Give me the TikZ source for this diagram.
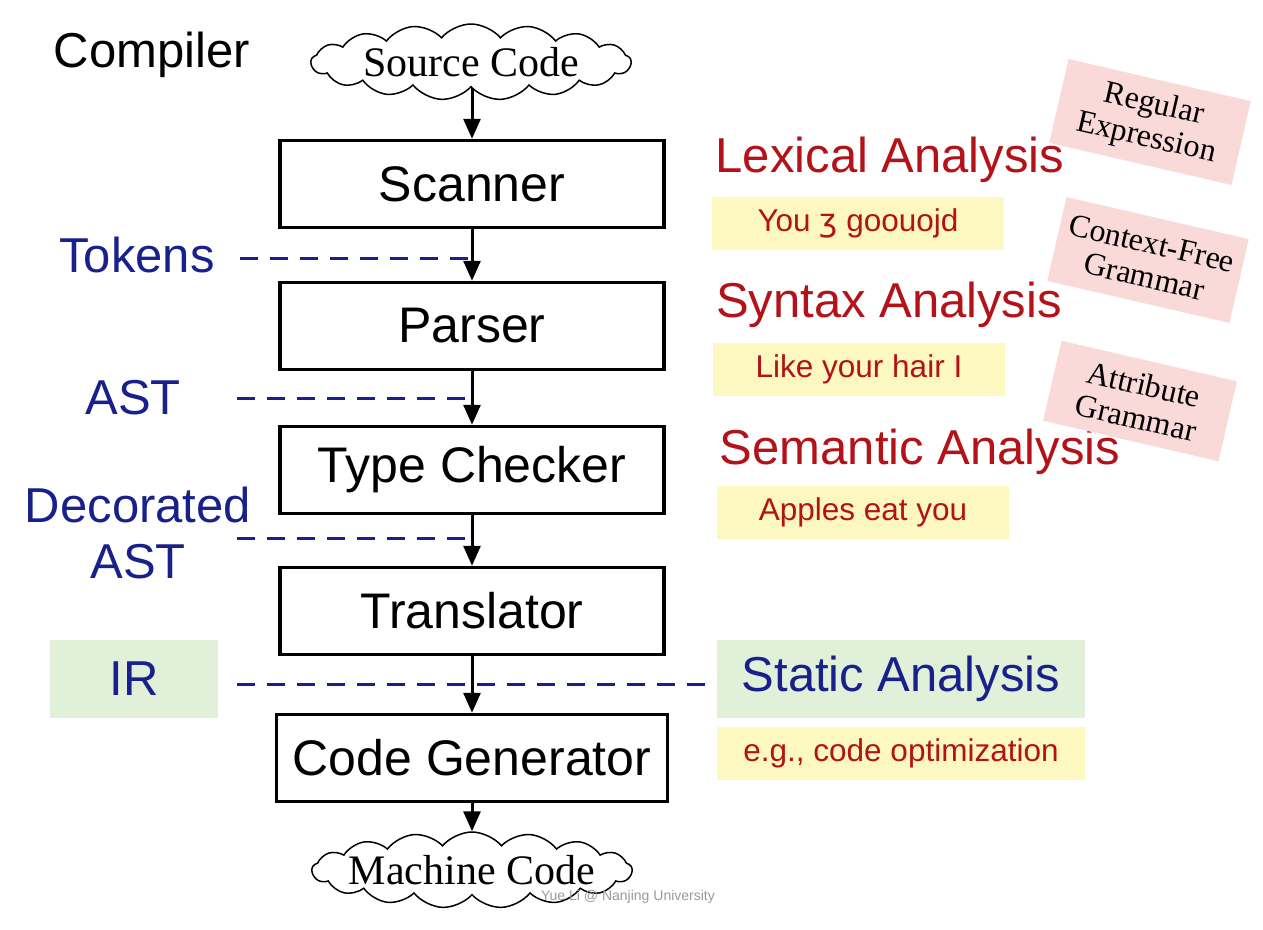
\documentclass[tikz,border=0pt]{standalone}
\usepackage{fontspec}
\setmainfont{Liberation Sans}
\newfontfamily\serifface{Liberation Serif}
\newfontfamily\symface{DejaVu Sans}
\usetikzlibrary{shapes.symbols,arrows.meta}
\definecolor{darkblue}{RGB}{24,32,140}
\definecolor{darkred}{RGB}{178,18,24}
\definecolor{paleyellow}{RGB}{253,248,192}
\definecolor{palegreen}{RGB}{225,240,217}
\definecolor{palepink}{RGB}{250,217,217}
\begin{document}
\begin{tikzpicture}[x=1pt,y=-1pt,>={Triangle[length=20pt,width=17pt]},
  phase/.style={draw,line width=3.5pt,minimum width=384pt,minimum height=87pt,font=\fontsize{50}{54}\selectfont},
  codecloud/.style={cloud,draw,line width=1.5pt,cloud puffs=17,cloud puff arc=100,cloud ignores aspect,minimum width=320pt,minimum height=76pt,inner xsep=-12pt,inner ysep=0pt,font=\serifface\fontsize{42}{46}\selectfont},
  flow/.style={->,line width=3pt},
  dashline/.style={darkblue,line width=3pt,dash pattern=on 18pt off 12pt},
  blabel/.style={text=darkblue,font=\fontsize{49}{56}\selectfont,align=center},
  rlabel/.style={text=darkred,font=\fontsize{49}{54}\selectfont},
  example/.style={fill=paleyellow,text=darkred,minimum width=292pt,minimum height=53pt,font=\fontsize{31.5}{34}\selectfont},
  formal/.style={fill=palepink,rotate=-13,align=center,minimum width=187pt,minimum height=86pt,font=\serifface\fontsize{32}{34}\selectfont}]
\useasboundingbox (0,0) rectangle (1263,929);
% pipeline
\node (compiler) at (152,55) {\fontsize{49}{52}\selectfont Compiler};
\node[codecloud] (src) at (471,62) {Source Code};
\node[phase] (scan) at (472,184) {Scanner};
\node[phase] (parse) at (472,326) {Parser};
\node[phase] (check) at (472,470) {Type Checker};
\node[phase] (trans) at (472,611) {Translator};
\node[phase,minimum width=391pt] (gen) at (472,758) {Code Generator};
\node[codecloud] (mach) at (472,870) {Machine Code};
\draw[flow] (scan.north |- src.south) -- (scan.north);
\draw[flow] (scan) -- (parse);
\draw[flow] (parse) -- (check);
\draw[flow] (check) -- (trans);
\draw[flow] (trans) -- (gen);
\draw[flow] (gen) -- (mach.north);
% intermediate forms
\node[blabel] (tokens) at (137,255) {Tokens};
\node[blabel] (ast) at (133,398) {AST};
\node[blabel] (dast) at (138,533) {Decorated\\AST};
\node[blabel,fill=palegreen,minimum width=168pt,minimum height=78pt] (ir) at (134,679) {IR};
\coordinate (t0) at (240,258);
\coordinate (a0) at (237,398);
\coordinate (d0) at (237,538);
\coordinate (i0) at (237,684);
\draw[dashline] (t0) -- (t0 -| scan);
\draw[dashline] (a0) -- (a0 -| parse);
\draw[dashline] (d0) -- (d0 -| check);
% analyses
\node[rlabel] (lex) at (890,160) {Lexical Analysis};
\node[example] (lexeg) at (858,223) {You {\symface ʒ} goouojd};
\node[rlabel] (syn) at (889,305) {Syntax Analysis};
\node[example] (syneg) at (859,369) {Like your hair I};
\node[rlabel] (sem) at (920,452) {Semantic Analysis};
\node[example] (semeg) at (863,512) {Apples eat you};
\node[blabel,fill=palegreen,minimum width=368pt,minimum height=78pt] (stat) at (901,679) {Static Analysis};
\node[example,minimum width=368pt] (stateg) at (901,753) {e.g., code optimization};
\draw[dashline] (i0) -- (stat.west |- i0);
% formalisms
\node[formal] (regex) at (1150,122) {Regular\\Expression};
\node[formal] (cfg) at (1148,260) {Context-Free\\Grammar};
\node[formal,minimum width=180pt,minimum height=82pt] (attr) at (1140,401) {Attribute\\Grammar};
\node[gray!80,font=\fontsize{14}{16}\selectfont] (credit) at (628,897) {Yue Li @ Nanjing University};
\end{tikzpicture}
\end{document}
